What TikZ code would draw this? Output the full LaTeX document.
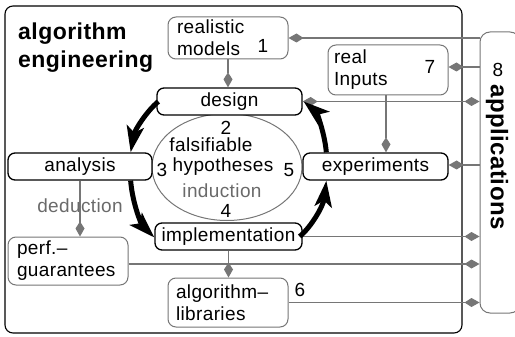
\documentclass[tikz,border=0pt]{standalone}
\usepackage{fontspec}
\setmainfont{Liberation Sans}[LetterSpace=2]
\usetikzlibrary{arrows.meta,shapes.geometric}
\definecolor{lgray}{HTML}{767676}
\definecolor{tgray}{HTML}{6A6A6A}
\begin{document}
\begin{tikzpicture}[x=1pt,y=-1pt,
  font=\fontsize{19}{22}\selectfont,
  blackbox/.style={draw=black, fill=white, line width=1.3pt, rounded corners=7pt,
    minimum width=145pt, minimum height=27pt, inner sep=0pt},
  graybox/.style={draw=lgray, fill=white, line width=1pt, rounded corners=8pt,
    align=left, inner ysep=0pt, inner xsep=9pt, text width=102pt, minimum width=120pt},
  conn/.style={draw=lgray, line width=1.1pt},
  kitetip/.style={-{Kite[length=15pt,width=9pt,inset=7pt]}},
  kiteboth/.style={{Kite[length=15pt,width=9pt,inset=7pt]}-{Kite[length=15pt,width=9pt,inset=7pt]}},
  cyc/.style={line width=5pt, -{Stealth[length=26pt,width=17pt,inset=6pt]}},
  lbl/.style={inner sep=0pt},
]
\useasboundingbox (0,0) rectangle (515,337);
% outer frame
\draw[line width=1.1pt, rounded corners=8pt] (5,6) rectangle (462,333);
% applications box
\node[draw=lgray, line width=1pt, rounded corners=10pt, minimum width=40pt,
  minimum height=281pt, inner sep=0pt] (apps) at (500,172.5) {};
\node[lbl, rotate=-90, font=\bfseries\fontsize{24}{28}\selectfont] (appstext) at (497,157) {applications};
\node[lbl] (n8) at (498,70) {8};
% title
\node[lbl, anchor=west, align=left, font=\bfseries\fontsize{23}{28}\selectfont] (title) at (18,48) {algorithm\\engineering};
% ellipse
\node[ellipse, draw=lgray, line width=1pt, minimum width=150pt, minimum height=107pt, inner sep=0pt] (hyp) at (227,167) {};
\node[lbl] (n2) at (226,128) {2};
\node[lbl] (fals) at (211,145) {falsifiable};
\node[lbl] (hypt) at (223,167) {hypotheses};
\node[lbl] (n3) at (162,170) {3};
\node[lbl] (n5) at (289,170) {5};
\node[lbl, text=tgray] (ind) at (222,191) {induction};
\node[lbl] (n4) at (226,211) {4};
% black boxes
\node[blackbox] (design) at (229.5,101.5) {design};
\node[blackbox, minimum width=144pt] (analysis) at (80,166.5) {analysis};
\node[blackbox] (experiments) at (375.5,166.5) {experiments};
\node[blackbox, minimum width=147pt] (implementation) at (228.5,236.5) {implementation};
% gray boxes
\node[graybox, minimum height=42pt] (models) at (228,38) {realistic\\models};
\node[lbl] (n1) at (263,46) {1};
\node[graybox, minimum height=50pt, inner xsep=6pt, text width=108pt] (inputs) at (388,70) {real\\Inputs};
\node[lbl] (n7) at (430,67) {7};
\node[graybox, minimum height=48pt] (perf) at (68,261) {perf.–\\guarantees};
\node[graybox, minimum height=49pt, inner xsep=8pt, text width=104pt] (libs) at (228,302.5) {algorithm–\\libraries};
\node[lbl] (n6) at (300,290) {6};
% gray connectors
\draw[conn, kitetip] (models.east -| apps.west) -- (models.east);
\draw[conn, kitetip] ([yshift=3pt]inputs.east -| apps.west) -- ([yshift=3pt]inputs.east);
\draw[conn, kiteboth] (design.east) -- (design.east -| apps.west);
\draw[conn, kitetip] ([xshift=-2pt]inputs.south) -- ([xshift=-2pt]inputs.south |- experiments.north);
\draw[conn, kitetip] ([yshift=1.5pt]experiments.east -| apps.west) -- ([yshift=1.5pt]experiments.east);
\draw[conn, kitetip] (implementation.east) -- (implementation.east -| apps.west);
\draw[conn, kitetip] ([yshift=-3pt]perf.east) -- ([yshift=-3pt]perf.east -| apps.west);
\draw[conn, kitetip] (libs.east) -- (libs.east -| apps.west);
\draw[conn, kitetip] (analysis.south) -- node[lbl, pos=0.45, text=tgray] (ded) {deduction} (analysis.south |- perf.north);
\draw[conn, kitetip] (implementation.south) -- (implementation.south |- libs.north);
\draw[conn, kitetip] (models.south) -- (models.south |- design.north);
% cycle arrows
\draw[cyc] ([xshift=2pt]design.west) .. controls +(-12,10) and +(4,-22) .. ([xshift=-22pt]analysis.north east);
\draw[cyc] ([xshift=-22pt]analysis.south east) .. controls +(2,25) and +(-12,-12) .. ([yshift=-1pt]implementation.west);
\draw[cyc] ([xshift=-3pt]implementation.east) .. controls +(12,-10) and +(-3,25) .. ([xshift=24pt]experiments.south west);
\draw[cyc] ([xshift=24pt]experiments.north west) .. controls +(-2,-22) and +(12,10) .. ([xshift=1pt]design.east);
\end{tikzpicture}
\end{document}
